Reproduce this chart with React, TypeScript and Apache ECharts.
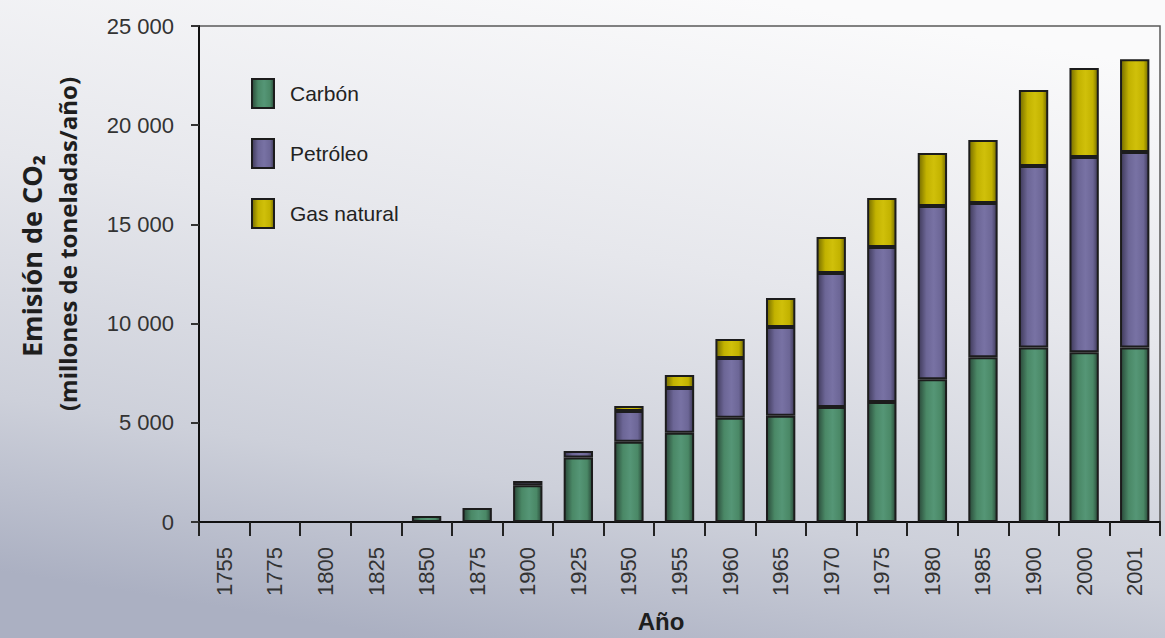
import React, { useEffect, useRef } from "react";
import * as echarts from "echarts";

const years = ["1755", "1775", "1800", "1825", "1850", "1875", "1900", "1925", "1950", "1955", "1960", "1965", "1970", "1975", "1980", "1985", "1900", "2000", "2001"];
const carbon = [0, 0, 0, 0, 300, 700, 1850, 3250, 4050, 4500, 5250, 5350, 5800, 6050, 7200, 8300, 8800, 8550, 8800];
const petroleo = [0, 0, 0, 0, 0, 0, 220, 330, 1550, 2250, 3020, 4480, 6750, 7810, 8730, 7780, 9140, 9850, 9850];
const gasNatural = [0, 0, 0, 0, 0, 0, 0, 0, 250, 660, 950, 1460, 1810, 2470, 2670, 3170, 3830, 4480, 4680];
const seriesNames = ["Carbón", "Petróleo", "Gas natural"];
const yMax = 25000;
const yStep = 5000;
const yTitle1 = "Emisión de CO₂";
const yTitle2 = "(millones de toneladas/año)";
const xTitle = "Año";

const NARROW = '"Liberation Sans", Arial, sans-serif';

function grad(mid: string, light: string, dark: string) {
  return new echarts.graphic.LinearGradient(0, 0, 1, 0, [
    { offset: 0, color: dark },
    { offset: 0.28, color: mid },
    { offset: 0.55, color: light },
    { offset: 0.82, color: mid },
    { offset: 1, color: dark },
  ]);
}

const styles = [
  grad("#4a8866", "#559676", "#2a4a3a"),
  grad("#6c6696", "#7872a4", "#3f3a5a"),
  grad("#c2b200", "#d0c00a", "#756c00"),
];

function fmt(v: number) {
  if (v === 0) return "0";
  const th = Math.floor(v / 1000);
  const rest = String(v % 1000).padStart(3, "0");
  return `${th} ${rest}`;
}

export default function App() {
  const ref = useRef<HTMLDivElement>(null);
  useEffect(() => {
    if (!ref.current) return;
    const chart = echarts.init(ref.current, null, { renderer: "svg" });
    const data = [carbon, petroleo, gasNatural];
    chart.setOption({
      animation: false,
      backgroundColor: new echarts.graphic.LinearGradient(0.65, 0, 0.35, 1, [
        { offset: 0, color: "#fafafb" },
        { offset: 0.4, color: "#e6e7ec" },
        { offset: 0.75, color: "#cdd0da" },
        { offset: 1, color: "#abb0c2" },
      ]),
      grid: {
        left: 199,
        right: 5,
        top: 26,
        bottom: 116,
        show: true,
        borderColor: "#5a5a5a",
        borderWidth: 1.5,
        backgroundColor: "transparent",
      },
      legend: {
        orient: "vertical",
        left: 246,
        top: 73,
        itemWidth: 22,
        itemHeight: 29,
        itemGap: 29,
        icon: "rect",
        data: seriesNames,
        textStyle: {
          fontFamily: NARROW,
          fontSize: 21,
          color: "#222",
          padding: [0, 0, 0, 11],
        },
      },
      xAxis: {
        type: "category",
        data: years,
        axisLine: { lineStyle: { color: "#111", width: 2 } },
        axisTick: { show: true, length: 14, lineStyle: { color: "#222", width: 2 }, interval: 0 },
        axisLabel: {
          interval: 0,
          rotate: 90,
          margin: 25,
          fontFamily: NARROW,
          fontSize: 22,
          color: "#333",
        },
      },
      yAxis: {
        type: "value",
        min: 0,
        max: yMax,
        interval: yStep,
        splitLine: { show: false },
        axisLine: { show: true, lineStyle: { color: "#111", width: 2 } },
        axisTick: { show: true, length: 8, lineStyle: { color: "#333", width: 2 } },
        axisLabel: {
          margin: 25,
          fontFamily: NARROW,
          fontSize: 22,
          color: "#333",
          formatter: (v: number) => fmt(v),
        },
      },
      series: seriesNames.map((name, i) => ({
        name,
        type: "bar",
        stack: "total",
        barWidth: "58%",
        data: data[i].map((v) => (v === 0 ? null : v)),
        itemStyle: {
          color: styles[i],
          borderColor: "#1c1c1c",
          borderWidth: 2,
        },
      })),
      graphic: [
        {
          type: "text",
          x: 31,
          y: 256,
          rotation: Math.PI / 2,
          style: {
            text: yTitle1,
            font: 'bold 27px "Open Sans", sans-serif',
            fill: "#1e1e1e",
            align: "center",
            verticalAlign: "middle",
          },
        },
        {
          type: "text",
          x: 67,
          y: 244,
          rotation: Math.PI / 2,
          style: {
            text: yTitle2,
            font: 'bold 24px "Open Sans", sans-serif',
            fill: "#1e1e1e",
            align: "center",
            verticalAlign: "middle",
          },
        },
        {
          type: "text",
          x: 661,
          y: 621,
          style: {
            text: xTitle,
            font: 'bold 24px "Liberation Sans", Arial, sans-serif',
            fill: "#1e1e1e",
            align: "center",
            verticalAlign: "middle",
          },
        },
      ],
    });
    return () => chart.dispose();
  }, []);
  return (
    <div
      ref={ref}
      style={{ position: "absolute", left: 0, top: 0, width: 1165, height: 638 }}
    />
  );
}
